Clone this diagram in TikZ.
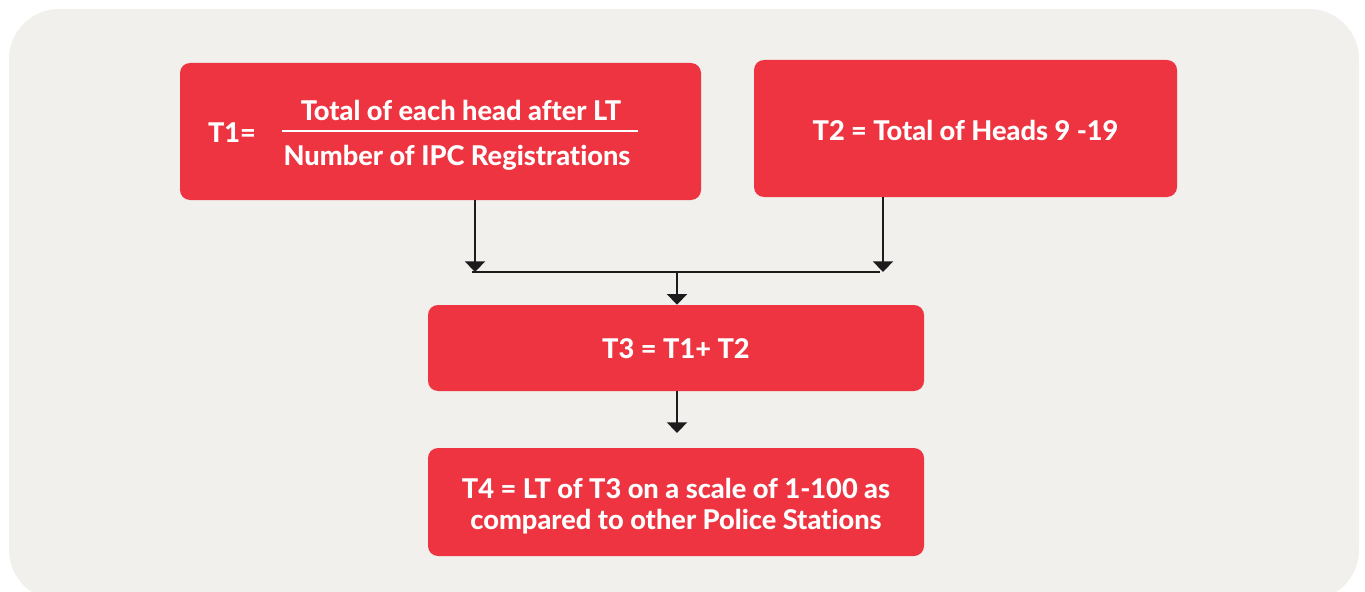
\documentclass[tikz,border=0pt]{standalone}
\usepackage{fontspec}
\setmainfont{Lato}[Ligatures=NoCommon,BoldFont={Lato Heavy}]
\usetikzlibrary{arrows.meta,calc}
\definecolor{panel}{HTML}{F1F0ED}
\definecolor{boxred}{HTML}{EE3440}
\definecolor{ink}{HTML}{1E1B1C}

\begin{document}
\begin{tikzpicture}[
 x=0.75pt, y=-0.75pt,
 font=\fontsize{20.4}{23.5}\selectfont\bfseries,
 box/.style={fill=boxred,rounded corners=7.5pt,inner sep=0pt},
 label/.style={text=white,align=center,inner sep=0pt},
 link/.style={ink,line width=1.6pt},
 flow/.style={link,-{Triangle[width=15pt,length=8pt]}},
]
\useasboundingbox (0,0) rectangle (1365,592);
\clip (0,0) rectangle (1365,592);

% Panel
\fill[panel,rounded corners=37.5pt] (9,9) rectangle (1359,600);

% Boxes
\node[box,minimum width=390.75pt,minimum height=102.75pt] (T1) at (440.5,131.5) {};
\node[box,minimum width=317.25pt,minimum height=102.75pt] (T2) at (965.5,128.5) {};
\node[box,minimum width=372pt,minimum height=64.5pt] (T3) at (676,348) {};
\node[box,minimum width=372pt,minimum height=81pt] (T4) at (676,502) {};

% Texts
\node[label] (T2text) at (965.5,130) {T2 = Total of Heads 9 -19};
\node[label] (T3text) at (676,349) {T3 = T1+ T2};
\node[label] (T4text) at (676,506) {T4 = LT of T3 on a scale of 1-100 as\\compared to other Police Stations};

% Fraction in T1
\node[label] (T1name) at (232,133) {T1=};
\node[label] (num) at (461,110) {Total of each head after LT};
\node[label] (den) at (457,158) {Number of IPC Registrations};
\draw[white,line width=1.5pt] (282,131) -- (638,131);

% Junction
\coordinate (jl) at (475,272);
\coordinate (jr) at (883,272);
\coordinate (jm) at (677,272);
\coordinate (t4in) at (677,433);

\draw[flow] (T1.south -| jl) -- (jl);
\draw[flow] (T2.south -| jr) -- (jr);
\draw[link] ([xshift=-2.25pt] jl) -- ([xshift=-2.25pt] jr);
\draw[flow] (jm) -- (T3.north -| jm);
\draw[flow] (T3.south -| jm) -- (t4in);

\end{tikzpicture}
\end{document}
